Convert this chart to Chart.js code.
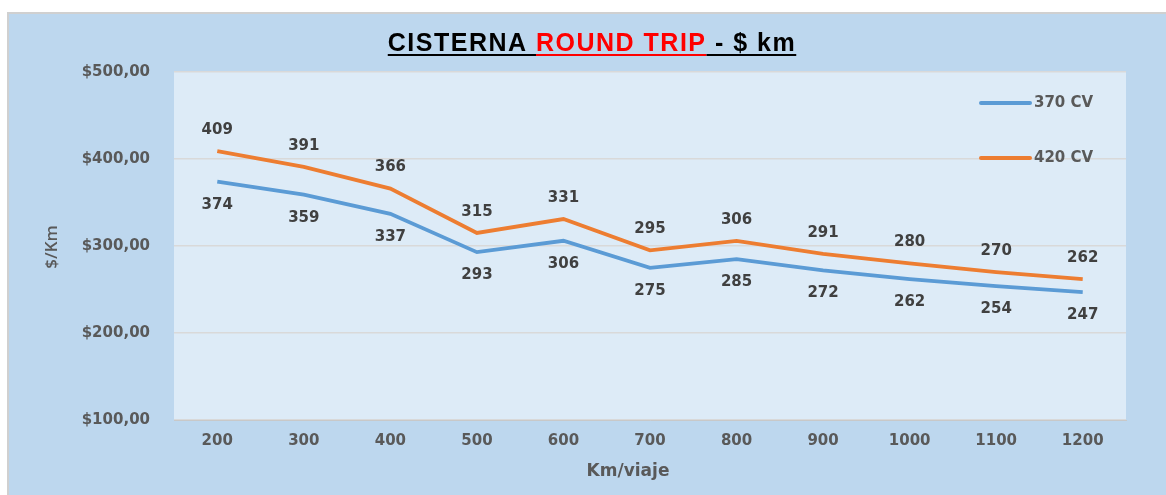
<!DOCTYPE html>
<html><head><meta charset="utf-8">
<script src="https://cdn.jsdelivr.net/npm/chart.js@4"></script>
<style>html,body{margin:0;padding:0;background:#fff;}#wrap{width:1166px;height:495px;}</style>
</head><body><div id="wrap"><canvas id="c" width="1166" height="495"></canvas></div>
<script>
const categories = ['200','300','400','500','600','700','800','900','1000','1100','1200'];
const cv370 = [374, 359, 337, 293, 306, 275, 285, 272, 262, 254, 247];
const cv420 = [409, 391, 366, 315, 331, 295, 306, 291, 280, 270, 262];
const seriesNames = ['370 CV', '420 CV'];
const titleParts = [['CISTERNA ', '#000000'], ['ROUND TRIP', '#FF0000'], [' - $ km', '#000000']];
const xTitle = 'Km/viaje';
const yTitle = '$/Km';

const GRAY = '#595959';
const LBL = '#404040';
const BOLD = 'bold 15px "DejaVu Sans"';

const decor = {
  id: 'decor',
  beforeDraw(chart) {
    const ctx = chart.ctx, a = chart.chartArea;
    ctx.save();
    ctx.fillStyle = '#ffffff';
    ctx.fillRect(0, 0, chart.width, chart.height);
    ctx.fillStyle = '#BDD7EE';
    ctx.fillRect(7, 12, chart.width - 7, chart.height - 12);
    ctx.strokeStyle = '#D0D0D0';
    ctx.lineWidth = 2;
    ctx.beginPath();
    ctx.moveTo(8, chart.height); ctx.lineTo(8, 13); ctx.lineTo(chart.width, 13);
    ctx.stroke();
    ctx.fillStyle = '#DDEBF7';
    ctx.fillRect(a.left, a.top, a.right - a.left, a.bottom - a.top);
    ctx.restore();
  },
  afterDraw(chart) {
    const ctx = chart.ctx, a = chart.chartArea;
    ctx.save();
    // title
    ctx.font = 'bold 25px "Liberation Sans"';
    ctx.letterSpacing = '1.5px';
    let total = 0;
    titleParts.forEach(p => total += ctx.measureText(p[0]).width);
    let x = 592 - total / 2;
    const base = 51;
    ctx.textBaseline = 'alphabetic';
    titleParts.forEach(p => {
      const w = ctx.measureText(p[0]).width;
      ctx.fillStyle = p[1];
      ctx.fillText(p[0], x, base);
      ctx.fillRect(x, base + 3, w, 2);
      x += w;
    });
    ctx.letterSpacing = '0px';
    // axis titles
    ctx.fillStyle = GRAY;
    ctx.font = 'bold 17px "DejaVu Sans"';
    ctx.textAlign = 'center';
    ctx.textBaseline = 'middle';
    ctx.fillText(xTitle, 628, 472);
    ctx.save();
    ctx.translate(52, 247);
    ctx.rotate(-Math.PI / 2);
    ctx.font = '600 17px "Open Sans"';
    ctx.fillText(yTitle, 0, 0);
    ctx.restore();
    // legend
    const ly = [103, 158];
    chart.data.datasets.forEach((ds, i) => {
      ctx.strokeStyle = ds.borderColor;
      ctx.lineWidth = 4;
      ctx.lineCap = 'round';
      ctx.beginPath();
      ctx.moveTo(a.right - 145, ly[i]);
      ctx.lineTo(a.right - 96, ly[i]);
      ctx.stroke();
      ctx.fillStyle = GRAY;
      ctx.font = 'bold 15px "DejaVu Sans"';
      ctx.textAlign = 'left';
      ctx.fillText(ds.label, a.right - 92, ly[i]);
    });
    ctx.restore();
  },
  afterDatasetsDraw(chart) {
    const ctx = chart.ctx;
    ctx.save();
    ctx.font = BOLD;
    ctx.fillStyle = LBL;
    ctx.textAlign = 'center';
    ctx.textBaseline = 'middle';
    chart.data.datasets.forEach((ds, i) => {
      const meta = chart.getDatasetMeta(i);
      const off = i === 0 ? 23 : -21;
      meta.data.forEach((pt, j) => {
        ctx.fillText(String(ds.data[j]), pt.x, pt.y + off);
      });
    });
    ctx.restore();
  }
};

new Chart(document.getElementById('c'), {
  type: 'line',
  data: {
    labels: categories,
    datasets: [
      { label: seriesNames[0], data: cv370, borderColor: '#5B9BD5', backgroundColor: '#5B9BD5', borderWidth: 3.75, pointRadius: 0, tension: 0 },
      { label: seriesNames[1], data: cv420, borderColor: '#ED7D31', backgroundColor: '#ED7D31', borderWidth: 3.75, pointRadius: 0, tension: 0 }
    ]
  },
  options: {
    responsive: false,
    animation: false,
    devicePixelRatio: 1,
    layout: { padding: { top: 72, right: 40, left: 0, bottom: 0 } },
    plugins: { legend: { display: false }, title: { display: false }, tooltip: { enabled: false } },
    scales: {
      x: {
        offset: true,
        grid: { display: false, drawTicks: false },
        border: { display: true, color: '#C8C8C8', width: 1 },
        ticks: { color: GRAY, font: { family: 'DejaVu Sans', weight: 'bold', size: 15 }, padding: 12, maxRotation: 0 },
        afterFit(s) { s.height = 75; }
      },
      y: {
        min: 100, max: 500,
        grid: { color: '#D9D9D9', lineWidth: 1.5, drawTicks: false },
        border: { display: false },
        ticks: { stepSize: 100, color: GRAY, font: { family: 'DejaVu Sans', weight: 'bold', size: 15 }, padding: 24,
          callback: v => '$' + v + ',00' },
        afterFit(s) { s.width = 174; }
      }
    }
  },
  plugins: [decor]
});
</script></body></html>
